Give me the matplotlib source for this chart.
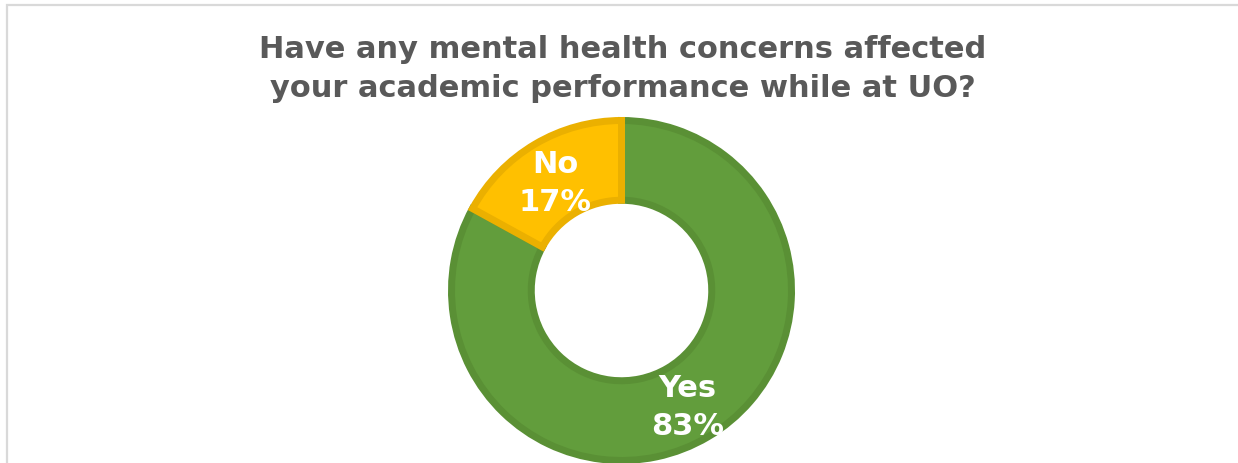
import matplotlib
matplotlib.use("Agg")
import matplotlib.pyplot as plt
from matplotlib.patches import Rectangle
import numpy as np

# Survey answers
categories = ["Yes", "No"]
shares = [83, 17]
fill_colors = ["#629D3C", "#FFC000"]
edge_colors = ["#5A9035", "#EBB000"]
title = "Have any mental health concerns affected\nyour academic performance while at UO?"

W, H = 1238, 464
fig = plt.figure(figsize=(W / 100, H / 100), dpi=100)
fig.patch.set_facecolor("white")

# Light chart-area frame
fig.patches.append(Rectangle((7 / W, -0.1), 1.2, (H - 6) / H + 0.1,
                             transform=fig.transFigure, fill=False,
                             edgecolor="#D9D9D9", linewidth=1.6))

fig.text(623 / W, 1 - 69 / H, title, ha="center", va="center",
         fontsize=22, fontweight="bold", color="#595959",
         family="DejaVu Sans", linespacing=1.42)

# Donut axes: centre (621.5, 291.5) px, outer radius 173.5 px
cx, cy, R = 621.5, 291.5, 173.5
ax = fig.add_axes([(cx - R) / W, (H - cy - R) / H, 2 * R / W, 2 * R / H])

lw_px = 7.0
inset = (lw_px / 2) / R
wedges, _ = ax.pie(shares, colors=fill_colors, startangle=90, counterclock=False,
                   radius=1 - inset,
                   wedgeprops=dict(width=0.5 - 2 * inset, linewidth=lw_px * 0.72,
                                   joinstyle="miter"))
for w, ec in zip(wedges, edge_colors):
    w.set_edgecolor(ec)
    w.set_clip_on(False)

ax.set_xlim(-1, 1)
ax.set_ylim(-1, 1)
ax.set_aspect("equal")
ax.axis("off")

# Labels placed at mid-ring of each wedge
start = 90.0
total = sum(shares)
for cat, val in zip(categories, shares):
    span = 360.0 * val / total
    mid = np.deg2rad(start - span / 2)
    start -= span
    r = 0.75
    ax.text(r * np.cos(mid), r * np.sin(mid) - 0.025, f"{cat}\n{val}%",
            ha="center", va="center", color="white", fontsize=22,
            fontweight="bold", family="DejaVu Sans", linespacing=1.38,
            clip_on=False)

fig.savefig("out.png", dpi=100, facecolor="white")
